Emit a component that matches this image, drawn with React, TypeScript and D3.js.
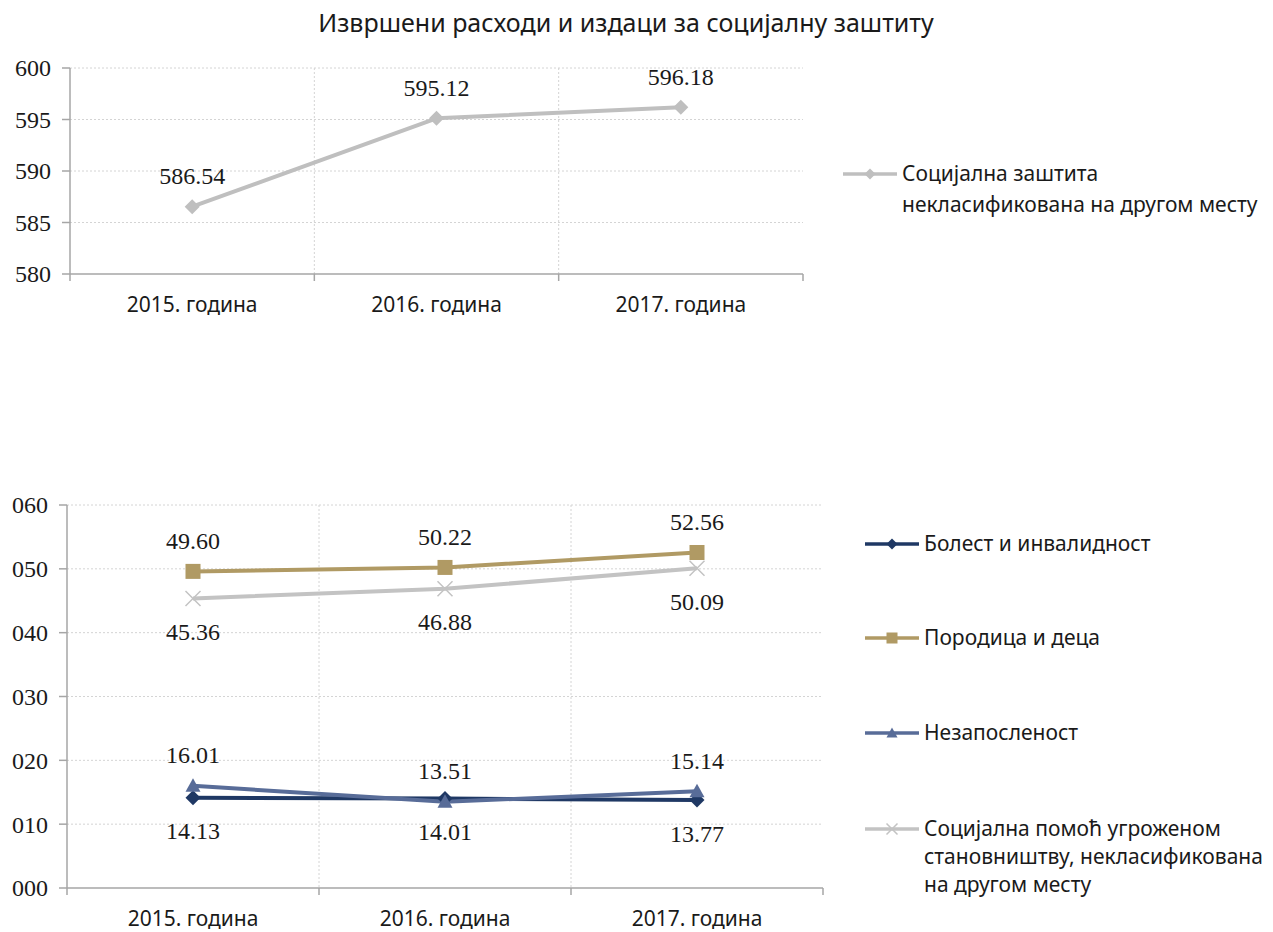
import React, { useEffect, useRef } from 'react';
import * as d3 from 'd3';

// категорије (године)
const years = ['2015. година', '2016. година', '2017. година'];

// горњи графикон
const topSeriesName = ['Социјална заштита', 'некласификована на другом месту'];
const topValues = [586.54, 595.12, 596.18];
const topTicks = [580, 585, 590, 595, 600];

// доњи графикон
const illnessValues = [14.13, 14.01, 13.77];
const familyValues = [49.6, 50.22, 52.56];
const unemploymentValues = [16.01, 13.51, 15.14];
const socialAidValues = [45.36, 46.88, 50.09];
const bottomTicks = [0, 10, 20, 30, 40, 50, 60];
const bottomTickLabels = ['000', '010', '020', '030', '040', '050', '060'];

const title = 'Извршени расходи и издаци за социјалну заштиту';

const SANS = '"Noto Sans", "Open Sans", sans-serif';
const SERIF = '"Liberation Serif", "DejaVu Serif", serif';

type Marker = 'diamond' | 'square' | 'triangle' | 'cross';

interface Series {
  name: string[];
  values: number[];
  color: string;
  marker: Marker;
  labelSide: 'above' | 'below';
}

const bottomSeries: Series[] = [
  { name: ['Болест и инвалидност'], values: illnessValues, color: '#1f3864', marker: 'diamond', labelSide: 'below' },
  { name: ['Породица и деца'], values: familyValues, color: '#b09a64', marker: 'square', labelSide: 'above' },
  { name: ['Незапосленост'], values: unemploymentValues, color: '#586c98', marker: 'triangle', labelSide: 'above' },
  {
    name: ['Социјална помоћ угроженом', 'становништву, некласификована', 'на другом месту'],
    values: socialAidValues,
    color: '#c3c3c3',
    marker: 'cross',
    labelSide: 'below',
  },
];

function drawMarker(g: d3.Selection<SVGGElement, unknown, null, undefined>, type: Marker, x: number, y: number, size: number, color: string) {
  const h = size / 2;
  if (type === 'diamond') {
    g.append('path').attr('d', `M${x},${y - h}L${x + h},${y}L${x},${y + h}L${x - h},${y}Z`).attr('fill', color);
  } else if (type === 'square') {
    g.append('rect').attr('x', x - h).attr('y', y - h).attr('width', size).attr('height', size).attr('fill', color);
  } else if (type === 'triangle') {
    g.append('path').attr('d', `M${x},${y - h}L${x + h},${y + h * 0.8}L${x - h},${y + h * 0.8}Z`).attr('fill', color);
  } else {
    g.append('path')
      .attr('d', `M${x - h},${y - h}L${x + h},${y + h}M${x + h},${y - h}L${x - h},${y + h}`)
      .attr('stroke', color)
      .attr('stroke-width', 1.5)
      .attr('fill', 'none');
  }
}

function drawPanel(
  svg: d3.Selection<SVGSVGElement, unknown, null, undefined>,
  box: { left: number; right: number; top: number; bottom: number },
  domain: [number, number],
  ticks: number[],
  tickLabels: string[],
  series: Series[],
  markerSize: number,
  legend: { x: number; rows: number[]; lineGap: number }
) {
  const x = d3.scaleBand<string>().domain(years).range([box.left, box.right]).padding(0);
  const y = d3.scaleLinear().domain(domain).range([box.bottom, box.top]);
  const g = svg.append('g');

  // мрежа
  ticks.forEach((t) => {
    if (t === domain[0]) return;
    g.append('line')
      .attr('x1', box.left).attr('x2', box.right)
      .attr('y1', y(t)).attr('y2', y(t))
      .attr('stroke', '#d4d4d4').attr('stroke-dasharray', '2,2');
  });
  years.slice(1).forEach((yr) => {
    g.append('line')
      .attr('x1', x(yr)!).attr('x2', x(yr)!)
      .attr('y1', box.top).attr('y2', box.bottom)
      .attr('stroke', '#d4d4d4').attr('stroke-dasharray', '2,2');
  });

  // оси
  const axisColor = '#a6a6a6';
  g.append('line').attr('x1', box.left).attr('x2', box.left).attr('y1', box.top).attr('y2', box.bottom + 7)
    .attr('stroke', axisColor).attr('stroke-width', 1.5);
  g.append('line').attr('x1', box.left).attr('x2', box.right).attr('y1', box.bottom).attr('y2', box.bottom)
    .attr('stroke', axisColor).attr('stroke-width', 1.5);
  years.slice(1).concat(['end']).forEach((yr) => {
    const px = yr === 'end' ? box.right : x(yr)!;
    g.append('line').attr('x1', px).attr('x2', px).attr('y1', box.bottom).attr('y2', box.bottom + 7)
      .attr('stroke', axisColor).attr('stroke-width', 1.5);
  });
  ticks.forEach((t, i) => {
    g.append('line').attr('x1', box.left - 8).attr('x2', box.left).attr('y1', y(t)).attr('y2', y(t))
      .attr('stroke', axisColor).attr('stroke-width', 1.5);
    g.append('text')
      .attr('x', box.left - 19).attr('y', y(t)).attr('dy', '0.35em')
      .attr('text-anchor', 'end')
      .attr('font-family', SERIF).attr('font-size', 24).attr('fill', '#1a1a1a')
      .text(tickLabels[i]);
  });
  years.forEach((yr) => {
    g.append('text')
      .attr('x', x(yr)! + x.bandwidth() / 2).attr('y', box.bottom + 38)
      .attr('text-anchor', 'middle')
      .attr('font-family', SANS).attr('font-size', 21).attr('fill', '#1a1a1a')
      .text(yr);
  });

  // линије
  const cx = (i: number) => x(years[i])! + x.bandwidth() / 2;
  series.forEach((s) => {
    const line = d3.line<number>().x((_, i) => cx(i)).y((d) => y(d));
    g.append('path').datum(s.values).attr('d', line).attr('fill', 'none')
      .attr('stroke', s.color).attr('stroke-width', 4).attr('stroke-linejoin', 'round');
  });
  series.forEach((s) => {
    s.values.forEach((v, i) => drawMarker(g, s.marker, cx(i), y(v), markerSize, s.color));
  });
  series.forEach((s) => {
    s.values.forEach((v, i) => {
      g.append('text')
        .attr('x', cx(i)).attr('y', y(v) + (s.labelSide === 'above' ? -31 : 33)).attr('dy', '0.35em')
        .attr('text-anchor', 'middle')
        .attr('font-family', SERIF).attr('font-size', 24).attr('fill', '#1a1a1a')
        .text(v.toFixed(2));
    });
  });

  // легенда
  series.forEach((s, k) => {
    const ly = legend.rows[k];
    g.append('line').attr('x1', legend.x).attr('x2', legend.x + 54).attr('y1', ly).attr('y2', ly)
      .attr('stroke', s.color).attr('stroke-width', 3.5);
    drawMarker(g, s.marker, legend.x + 27, ly, 11, s.color);
    s.name.forEach((ln, j) => {
      g.append('text')
        .attr('x', legend.x + 59).attr('y', ly + j * legend.lineGap).attr('dy', '0.35em')
        .attr('font-family', SANS).attr('font-size', 21).attr('fill', '#1a1a1a')
        .text(ln);
    });
  });
}

export default function App() {
  const svgRef = useRef<SVGSVGElement>(null);

  useEffect(() => {
    if (!svgRef.current) return;
    const svg = d3.select(svgRef.current);
    svg.selectAll('*').remove();

    svg.append('rect').attr('width', 1273).attr('height', 932).attr('fill', '#ffffff');

    svg.append('text')
      .attr('x', 626).attr('y', 23).attr('dy', '0.35em')
      .attr('text-anchor', 'middle')
      .attr('font-family', SANS).attr('font-size', 25).attr('fill', '#1a1a1a')
      .text(title);

    drawPanel(
      svg,
      { left: 70, right: 803, top: 68, bottom: 274 },
      [580, 600],
      topTicks,
      topTicks.map((t) => String(t)),
      [{ name: topSeriesName, values: topValues, color: '#bfbfbf', marker: 'diamond', labelSide: 'above' }],
      15,
      { x: 843, rows: [174], lineGap: 31 }
    );

    drawPanel(
      svg,
      { left: 67, right: 823, top: 505, bottom: 888 },
      [0, 60],
      bottomTicks,
      bottomTickLabels,
      bottomSeries,
      15,
      { x: 865, rows: [544, 638, 733, 829], lineGap: 28 }
    );
  }, []);

  return (
    <div style={{ position: 'absolute', left: 0, top: 0 }}>
      <svg ref={svgRef} width={1273} height={932} style={{ display: 'block' }} />
    </div>
  );
}
